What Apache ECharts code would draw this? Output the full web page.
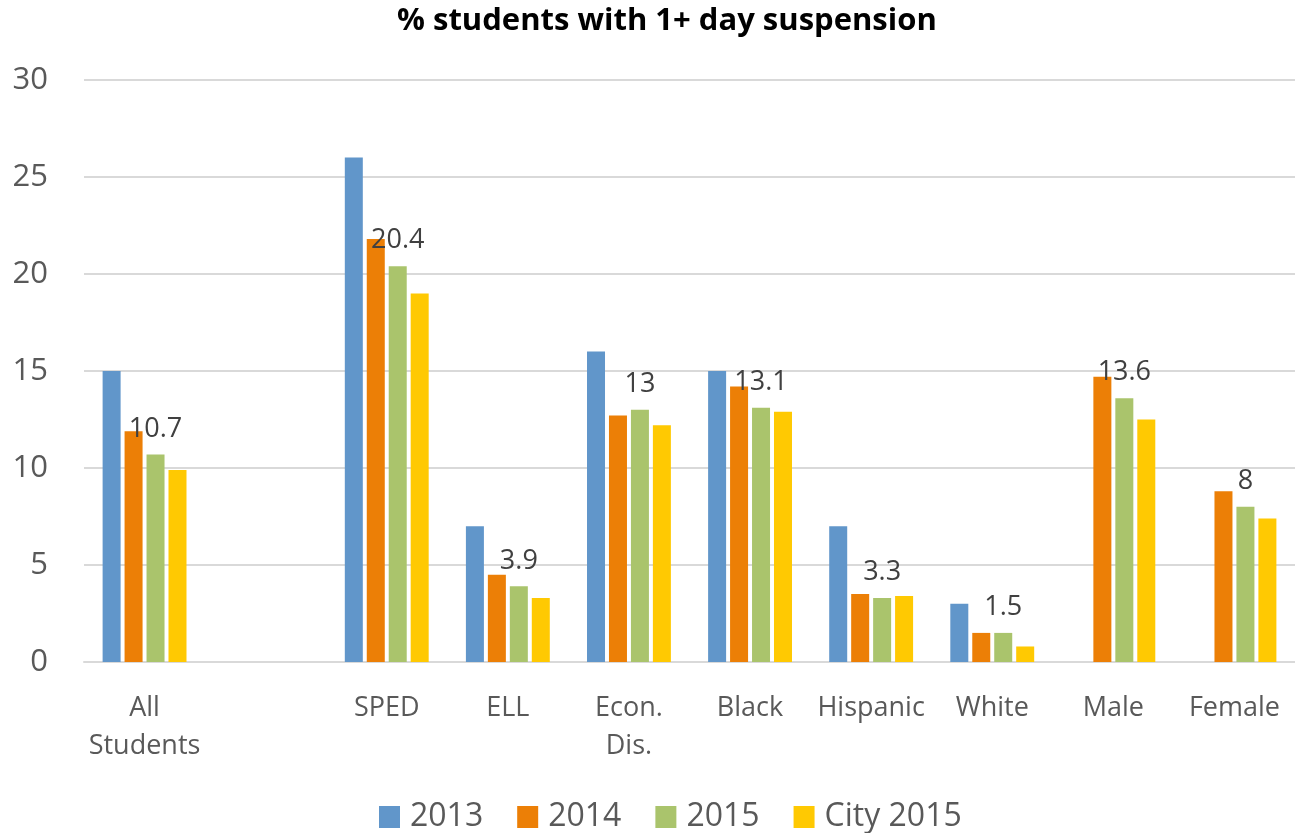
<!DOCTYPE html>
<html><head><meta charset="utf-8">
<script src="https://cdn.jsdelivr.net/npm/echarts@6/dist/echarts.min.js"></script>
<style>html,body{margin:0;padding:0;background:#fff}#c{width:1295px;height:833px}</style>
</head><body><div id="c"></div>
<script>
const categories = ['All\nStudents', '', 'SPED', 'ELL', 'Econ.\nDis.', 'Black', 'Hispanic', 'White', 'Male', 'Female'];
const s2013 = [15, null, 26, 7, 16, 15, 7, 3, null, null];
const s2014 = [11.9, null, 21.8, 4.5, 12.7, 14.2, 3.5, 1.5, 14.7, 8.8];
const s2015 = [10.7, null, 20.4, 3.9, 13, 13.1, 3.3, 1.5, 13.6, 8];
const sCity = [9.9, null, 19, 3.3, 12.2, 12.9, 3.4, 0.8, 12.5, 7.4];
const seriesNames = ['2013', '2014', '2015', 'City 2015'];
const yTicks = [0, 5, 10, 15, 20, 25, 30];

const FONT = '"Open Sans", sans-serif';
const colors = ['#6196CA', '#EC7F06', '#AAC46C', '#FFC902'];
const chart = echarts.init(document.getElementById('c'), null, {renderer: 'canvas'});
function bar(name, data, label) {
  return {
    name, type: 'bar', data, barWidth: 18, barGap: '22%',
    label: label ? {show: true, position: 'top', distance: 12, color: '#404040', fontSize: 27, fontFamily: FONT} : {show: false}
  };
}
chart.setOption({
  animation: false,
  color: colors,
  title: {text: '% students with 1+ day suspension', left: 392, top: 1,
    textStyle: {fontFamily: FONT, fontWeight: 'bold', fontSize: 31, color: '#000'}},
  grid: {left: 84, top: 80, width: 1217, height: 582, containLabel: false},
  legend: {bottom: -5, left: 374, itemWidth: 21, itemHeight: 22, itemGap: 34,
    icon: 'rect', textStyle: {fontFamily: FONT, fontSize: 32, color: '#595959', padding: [0, 0, 0, 5]}, data: seriesNames},
  xAxis: {type: 'category', data: categories,
    axisLine: {lineStyle: {color: '#D9D9D9', width: 2}}, axisTick: {show: false},
    axisLabel: {fontFamily: FONT, fontSize: 27, color: '#595959', margin: 27, lineHeight: 38, interval: 0}},
  yAxis: {type: 'value', min: yTicks[0], max: yTicks[yTicks.length - 1], interval: 5,
    axisLine: {show: false}, axisTick: {show: false},
    splitLine: {lineStyle: {color: '#D9D9D9', width: 2}},
    axisLabel: {fontFamily: FONT, fontSize: 31, color: '#595959', margin: 36}},
  series: [bar(seriesNames[0], s2013), bar(seriesNames[1], s2014), bar(seriesNames[2], s2015, true), bar(seriesNames[3], sCity)]
});
</script></body></html>
